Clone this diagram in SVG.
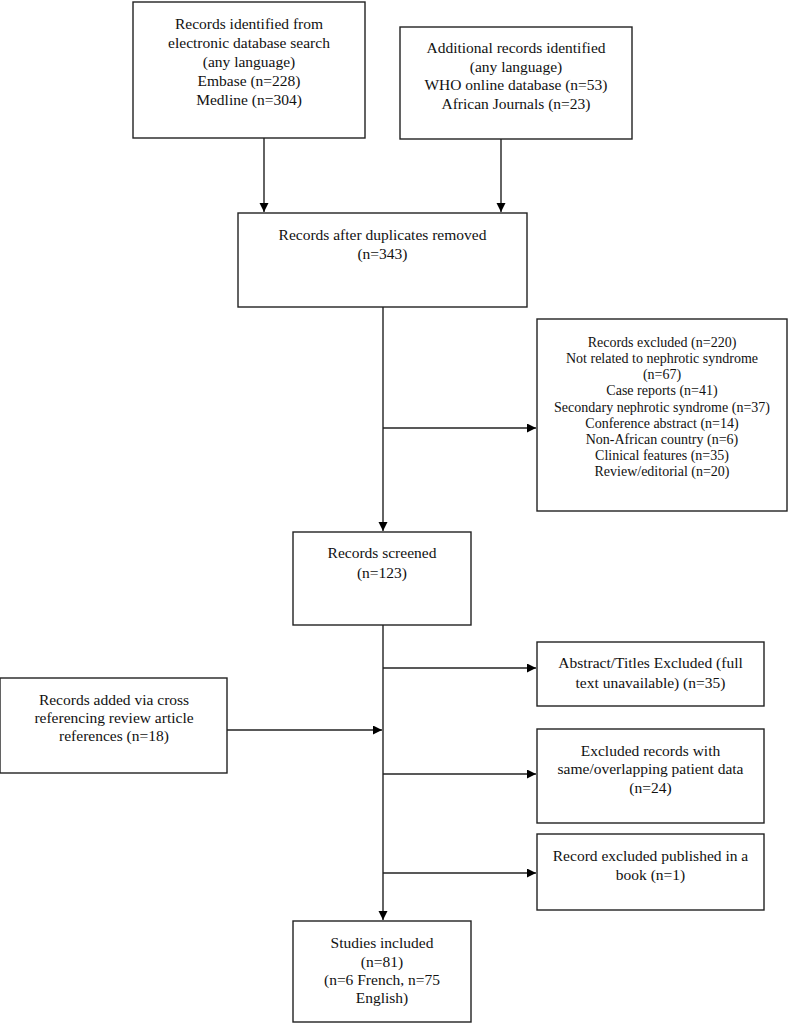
<svg xmlns="http://www.w3.org/2000/svg" width="789" height="1023" viewBox="0 0 789 1023">
<defs>
<marker id="ah" markerWidth="10" markerHeight="10" refX="9" refY="4.5" orient="auto" markerUnits="userSpaceOnUse">
<path d="M0,0 L9,4.5 L0,9 Z" fill="#000"/>
</marker>
<style>
.box{fill:#fff;stroke:#222;stroke-width:1.4}
.t{font-family:"Liberation Serif","Times New Roman",serif;font-size:15.5px;fill:#111;text-anchor:middle}
.s{font-size:14px}
.c{fill:none;stroke:#222;stroke-width:1.4}
</style>
</defs>
<rect width="789" height="1023" fill="#fff"/>
<g id="connectors">
<path class="c" d="M264,138 V212" marker-end="url(#ah)"/>
<path class="c" d="M501,139 V212" marker-end="url(#ah)"/>
<path class="c" d="M383,307 V531" marker-end="url(#ah)"/>
<path class="c" d="M383,428 H536" marker-end="url(#ah)"/>
<path class="c" d="M383,625 V920" marker-end="url(#ah)"/>
<path class="c" d="M383,668 H536" marker-end="url(#ah)"/>
<path class="c" d="M227,730 H382" marker-end="url(#ah)"/>
<path class="c" d="M383,774 H536" marker-end="url(#ah)"/>
<path class="c" d="M383,873 H536" marker-end="url(#ah)"/>
</g>
<g id="n1">
<rect class="box" x="133" y="2" width="232" height="136"/>
<text class="t" x="249" y="28.5">Records identified from</text>
<text class="t" x="249" y="47.7">electronic database search</text>
<text class="t" x="249" y="66.9">(any language)</text>
<text class="t" x="249" y="86.1">Embase (n=228)</text>
<text class="t" x="249" y="105.3">Medline (n=304)</text>
</g>
<g id="n2">
<rect class="box" x="400" y="27" width="232" height="112"/>
<text class="t" x="516" y="53">Additional records identified</text>
<text class="t" x="516" y="71.5">(any language)</text>
<text class="t" x="516" y="90">WHO online database (n=53)</text>
<text class="t" x="516" y="108.5">African Journals (n=23)</text>
</g>
<g id="n3">
<rect class="box" x="238" y="213" width="289" height="94"/>
<text class="t" x="382.5" y="240">Records after duplicates removed</text>
<text class="t" x="382.5" y="258.5">(n=343)</text>
</g>
<g id="n4">
<rect class="box" x="537" y="319" width="250" height="192"/>
<text class="t s" x="662" y="347">Records excluded (n=220)</text>
<text class="t s" x="662" y="363">Not related to nephrotic syndrome</text>
<text class="t s" x="662" y="379">(n=67)</text>
<text class="t s" x="662" y="395">Case reports (n=41)</text>
<text class="t s" x="662" y="411.5">Secondary nephrotic syndrome (n=37)</text>
<text class="t s" x="662" y="427.5">Conference abstract (n=14)</text>
<text class="t s" x="662" y="443.5">Non-African country (n=6)</text>
<text class="t s" x="662" y="459.5">Clinical features (n=35)</text>
<text class="t s" x="662" y="476">Review/editorial (n=20)</text>
</g>
<g id="n5">
<rect class="box" x="293" y="532" width="178" height="93"/>
<text class="t" x="382" y="558">Records screened</text>
<text class="t" x="382" y="577.5">(n=123)</text>
</g>
<g id="n6">
<rect class="box" x="537" y="642" width="227" height="64"/>
<text class="t" x="650.5" y="668">Abstract/Titles Excluded (full</text>
<text class="t" x="650.5" y="688">text unavailable) (n=35)</text>
</g>
<g id="n7">
<rect class="box" x="0" y="678" width="227" height="95"/>
<text class="t" x="114" y="705">Records added via cross</text>
<text class="t" x="114" y="723">referencing review article</text>
<text class="t" x="114" y="741">references (n=18)</text>
</g>
<g id="n8">
<rect class="box" x="537" y="729" width="227" height="94"/>
<text class="t" x="650.5" y="755.7">Excluded records with</text>
<text class="t" x="650.5" y="774.3">same/overlapping patient data</text>
<text class="t" x="650.5" y="793.3">(n=24)</text>
</g>
<g id="n9">
<rect class="box" x="537" y="834" width="227" height="76"/>
<text class="t" x="650.5" y="861">Record excluded published in a</text>
<text class="t" x="650.5" y="880">book (n=1)</text>
</g>
<g id="n10">
<rect class="box" x="293" y="921" width="178" height="101"/>
<text class="t" x="382" y="948">Studies included</text>
<text class="t" x="382" y="966.5">(n=81)</text>
<text class="t" x="382" y="984.5">(n=6 French, n=75</text>
<text class="t" x="382" y="1002.5">English)</text>
</g>
</svg>
